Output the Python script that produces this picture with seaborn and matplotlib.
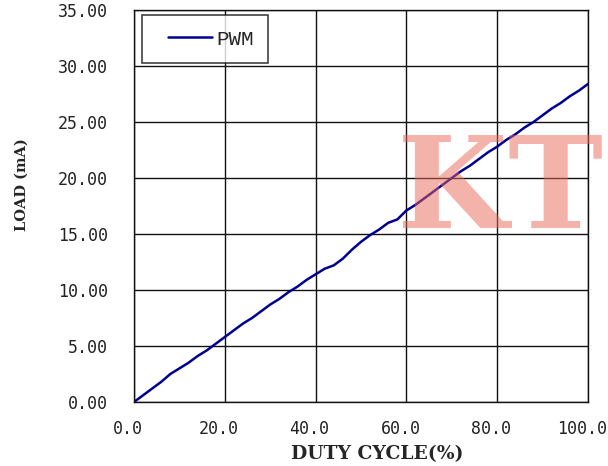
import pandas as pd
import seaborn as sns
import matplotlib.pyplot as plt
from matplotlib.lines import Line2D
from matplotlib.legend_handler import HandlerLine2D
from matplotlib.transforms import ScaledTranslation

# Values
duty_cycle = [0, 2, 4, 6, 8, 10, 12, 14, 16, 18, 20, 22, 24, 26, 28, 30, 32, 34, 36, 38,
              40, 42, 44, 46, 48, 50, 52, 54, 56, 58, 60, 62, 64, 66, 68, 70, 72, 74, 76, 78,
              80, 82, 84, 86, 88, 90, 92, 94, 96, 98, 100]
load_ma = [0.0, 0.6, 1.2, 1.8, 2.5, 3.0, 3.5, 4.1, 4.6, 5.2, 5.8, 6.4, 7.0, 7.5, 8.1, 8.7,
           9.2, 9.8, 10.3, 10.9, 11.4, 11.9, 12.2, 12.8, 13.6, 14.3, 14.9, 15.4, 16.0, 16.3,
           17.1, 17.6, 18.2, 18.8, 19.4, 20.0, 20.6, 21.1, 21.7, 22.3, 22.8, 23.4, 23.9, 24.5,
           25.0, 25.6, 26.2, 26.7, 27.3, 27.8, 28.4]
x_ticks = [0, 20, 40, 60, 80, 100]
y_ticks = [0, 5, 10, 15, 20, 25, 30, 35]
series_name = 'PWM'

sns.set_style('white')
plt.rcParams['font.family'] = ['DejaVu Sans Mono']

df = pd.DataFrame({'duty': duty_cycle, 'load': load_ma})

fig = plt.figure(figsize=(6.08, 4.66), dpi=100)
ax = fig.add_axes([134 / 608, 64 / 466, 454 / 608, 392 / 466])

sns.lineplot(data=df, x='duty', y='load', color='#000090', linewidth=1.8,
             label=series_name, ax=ax)

ax.set_xlim(0, 100)
ax.set_ylim(0, 35)
ax.set_xticks(x_ticks)
ax.set_yticks(y_ticks)
ax.set_xticklabels([f'{v:.1f}' for v in x_ticks])
ax.set_yticklabels([f'{v:.2f}' for v in y_ticks])
ax.tick_params(axis='both', length=0, labelsize=12, colors='#222222')
ax.tick_params(axis='y', pad=19)
ax.tick_params(axis='x', pad=13)
# x labels sit a little left of their gridlines in the original
shift = ScaledTranslation(-6 / 100, 0, fig.dpi_scale_trans)
for lbl in ax.get_xticklabels():
    lbl.set_transform(lbl.get_transform() + shift)

ax.grid(True, color='#111111', linewidth=1.0)
for s in ax.spines.values():
    s.set_color('#111111')
    s.set_linewidth(1.0)

ax.set_xlabel('')
ax.set_ylabel('')
fig.text(377 / 608, 1 - 454 / 466, 'DUTY CYCLE(%)', ha='center', va='center',
         fontsize=13.5, fontweight='bold', family='DejaVu Serif')
fig.text(22 / 608, 1 - 185 / 466, 'LOAD (mA)', ha='center', va='center', rotation=90,
         fontsize=10.5, fontweight='bold', family='DejaVu Serif')

leg = ax.legend(loc='upper left', bbox_to_anchor=(0.0176, 0.987), borderaxespad=0,
                frameon=True, fancybox=False, handlelength=2.65, borderpad=0.7,
                handletextpad=0.2, prop={'family': 'Liberation Mono', 'size': 15},
                handler_map={Line2D: HandlerLine2D(xpad=0.53)})
leg.get_frame().set_edgecolor('#111111')
leg.get_frame().set_linewidth(1.2)

# watermark
fig.text(500 / 608, 1 - 193 / 466, 'KT', ha='center', va='center', fontsize=92,
         fontweight='bold', family='DejaVu Serif', color='#e96959', alpha=0.5)

fig.savefig('out.png', dpi=100)
